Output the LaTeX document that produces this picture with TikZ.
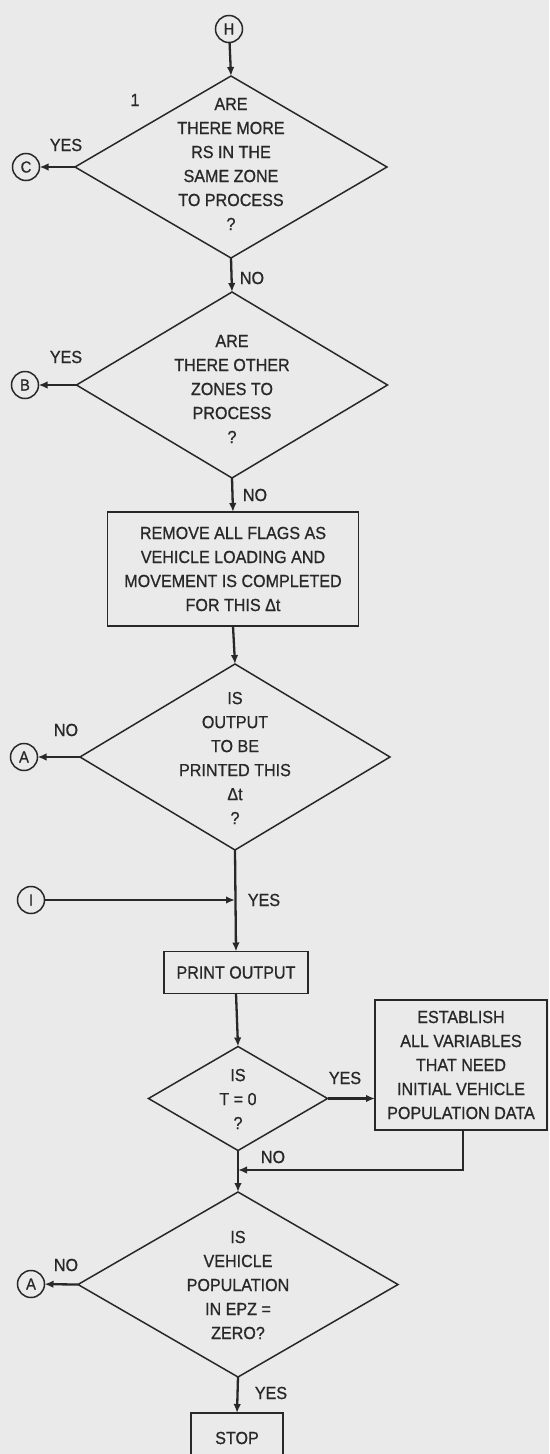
\documentclass[tikz,border=0pt]{standalone}
\usepackage{fontspec}
\setmainfont[FakeStretch=0.92,FakeBold=0.8]{Liberation Sans}
\usetikzlibrary{shapes.geometric,arrows.meta}
\definecolor{bg}{RGB}{234,234,234}
\definecolor{ink}{RGB}{40,40,40}
\tikzset{
  txt/.style={font=\fontsize{17.5}{24}\selectfont, text=ink, align=center, inner sep=0pt},
  dia/.style 2 args={diamond, draw=ink, line width=1.5pt, minimum width=#1, minimum height=#2, inner sep=0pt, outer sep=0pt},
  proc/.style 2 args={rectangle, draw=ink, line width=1.5pt, minimum width=#1, minimum height=#2, inner sep=0pt, outer sep=0pt, txt},
  conn/.style={draw=ink, line width=2.3pt, -{Latex[length=9pt,width=7.5pt]}},
  con/.style={circle, draw=ink, line width=1.5pt, minimum size=27pt, inner sep=0pt, outer sep=0pt, font=\fontsize{16}{18}\selectfont, text=ink},
  lbl/.style={txt}
}
\begin{document}
\begin{tikzpicture}[x=1pt,y=-1pt]
\fill[bg] (0,0) rectangle (549,1454);
\useasboundingbox (0,0) rectangle (549,1454);
\clip (0,0) rectangle (549,1454);

% connectors (circles)
\node[con] (H) at (229,29) {H};
\node[con] (C) at (26,167) {C};
\node[con] (B) at (25,385) {B};
\node[con] (A1) at (24,757) {A};
\node[con] (I) at (31,900) {I};
\node[con] (A2) at (31,1284) {A};

% decision 1
\node[dia={312pt}{182pt}] (d1) at (231,167) {};
\node[txt] (t1) at (231,164) {ARE\\THERE MORE\\RS IN THE\\SAME ZONE\\TO PROCESS\\?};
\node[lbl] (n1) at (135,100) {1};
\node[lbl] (y1) at (66,145) {YES};
\node[lbl] (no1) at (252,278) {NO};

% decision 2
\node[dia={311pt}{186pt}] (d2) at (232,385) {};
\node[txt] (t2) at (232,389) {ARE\\THERE OTHER\\ZONES TO\\PROCESS\\?};
\node[lbl] (y2) at (66,357) {YES};
\node[lbl] (no2) at (255,495) {NO};

% box remove flags
\node[proc={251pt}{114pt}] (b1) at (233,569) {REMOVE ALL FLAGS AS\\VEHICLE LOADING AND\\MOVEMENT IS COMPLETED\\FOR THIS Δt};

% decision 3
\node[dia={310pt}{186pt}] (d3) at (235,757) {};
\node[txt] (t3) at (235,758) {IS\\OUTPUT\\TO BE\\PRINTED THIS\\Δt\\?};
\node[lbl] (no3) at (66,730) {NO};
\coordinate (J) at (235,900);
\node[lbl] (y3) at (264,900) {YES};

% print output
\node[proc={144pt}{42pt}] (pr) at (236,972.5) {PRINT OUTPUT};

% decision 4
\node[dia={179pt}{104pt}] (d4) at (238,1098.5) {};
\node[txt] (t4) at (238,1099) {IS\\T = 0\\?};
\node[lbl] (y4) at (345,1078) {YES};
\node[proc={172pt}{130pt}] (est) at (461,1065) {ESTABLISH\\ALL VARIABLES\\THAT NEED\\INITIAL VEHICLE\\POPULATION DATA};
\coordinate (K) at (463,1170);
\coordinate (M) at (238,1170);
\node[lbl] (no4) at (273,1157) {NO};

% decision 5
\node[dia={320pt}{185pt}] (d5) at (238,1284.5) {};
\node[txt] (t5) at (238,1285) {IS\\VEHICLE\\POPULATION\\IN EPZ =\\ZERO?};
\node[lbl] (no5) at (66,1265) {NO};
\node[lbl] (y5) at (271,1393) {YES};
\node[proc={92pt}{50pt}] (stop) at (237,1438) {STOP};

% connectors
\draw[conn] (H) -- (d1.north);
\draw[conn] (d1.west) -- (C);
\draw[conn] (d1.south) -- (d2.north);
\draw[conn] (d2.west) -- (B);
\draw[conn] (d2.south) -- (b1.north);
\draw[conn] (b1.south) -- (d3.north);
\draw[conn] (d3.west) -- (A1);
\draw[conn] (d3.south) -- (pr.north);
\draw[conn] (I) -- (J);
\draw[conn] (pr.south) -- (d4.north);
\draw[conn] (d4.east) -- (d4.east -| est.west);
\draw[conn] (K |- est.south) -- (K) -- (M);
\draw[conn] (d4.south) -- (d5.north);
\draw[conn] (d5.west) -- (A2);
\draw[conn] (d5.south) -- (stop.north);
\end{tikzpicture}
\end{document}
